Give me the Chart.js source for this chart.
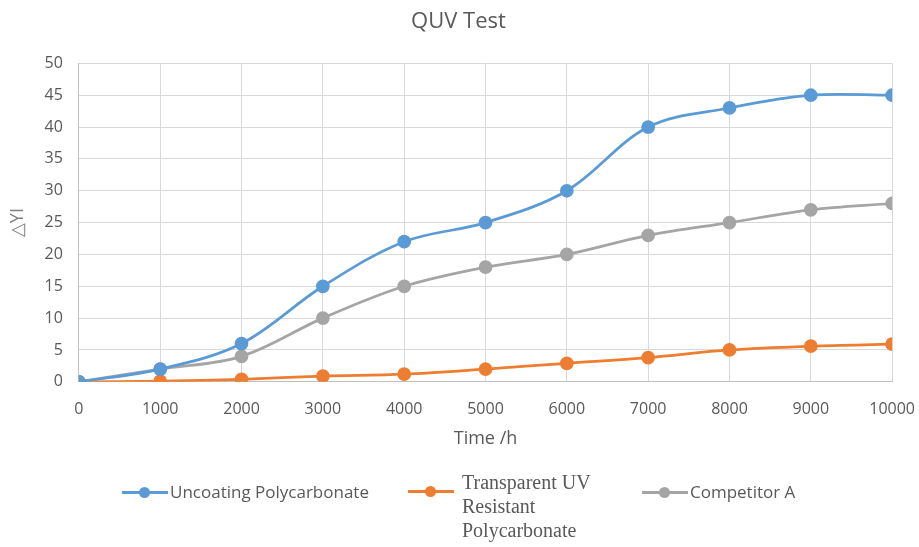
<!DOCTYPE html>
<html>
<head>
<meta charset="utf-8">
<script src="https://cdn.jsdelivr.net/npm/chart.js@4.4.1/dist/chart.umd.min.js"></script>
<style>
  html, body { margin: 0; padding: 0; background: #ffffff; }
  #wrap { position: relative; width: 919px; height: 547px; }
  #c { position: absolute; left: 0; top: 0; }
  .leg { position: absolute; display: flex; align-items: flex-start; color: #595959; }
  .mk { position: relative; width: 46px; height: 3px; background: currentColor; margin-right: 2px; }
  .mk::after { content: ""; position: absolute; left: 17px; top: -4px; width: 11px; height: 11px; border-radius: 50%; background: inherit; }
  .txt { font-family: "Open Sans", sans-serif; font-size: 17px; color: #595959; }
  .serif { font-family: "Liberation Serif", "DejaVu Serif", serif; font-size: 20px; line-height: 24px; color: #595959; }
</style>
</head>
<body>
<div id="wrap">
  <canvas id="c" width="919" height="547"></canvas>
  <div class="leg" id="leg0" style="left:122px; top:480px;"><div class="mk" style="color:#5b9bd5; margin-top:11px;"></div><div class="txt">Uncoating Polycarbonate</div></div>
  <div class="leg" id="leg1" style="left:408px; top:470px;"><div class="mk" style="color:#ed7d31; margin-top:20px; margin-right:8px;"></div><div class="serif">Transparent UV<br>Resistant<br>Polycarbonate</div></div>
  <div class="leg" id="leg2" style="left:642px; top:480px;"><div class="mk" style="color:#a5a5a5; margin-top:11px;"></div><div class="txt">Competitor A</div></div>
</div>
<script>
const hours = [0, 1000, 2000, 3000, 4000, 5000, 6000, 7000, 8000, 9000, 10000];
const uncoating = [0, 2, 6, 15, 22, 25, 30, 40, 43, 45, 45];
const transparentUV = [0, 0.1, 0.4, 0.9, 1.2, 2, 2.9, 3.8, 5, 5.6, 5.9];
const competitorA = [0, 2, 4, 10, 15, 18, 20, 23, 25, 27, 28];
const seriesNames = ["Uncoating Polycarbonate", "Transparent UV Resistant Polycarbonate", "Competitor A"];
const seriesColors = ["#5b9bd5", "#ed7d31", "#a5a5a5"];

function pts(vals) { return hours.map((h, i) => ({ x: h, y: vals[i] })); }
function ds(name, vals, color) {
  return {
    label: name, data: pts(vals),
    borderColor: color, backgroundColor: color,
    pointBackgroundColor: color, pointBorderColor: color,
    borderWidth: 2.75, pointRadius: 5.5, pointHoverRadius: 5.5,
    tension: 0.35, fill: false
  };
}

new Chart(document.getElementById('c'), {
  type: 'line',
  data: {
    datasets: [
      ds(seriesNames[0], uncoating, seriesColors[0]),
      ds(seriesNames[1], transparentUV, seriesColors[1]),
      ds(seriesNames[2], competitorA, seriesColors[2])
    ]
  },
  options: {
    responsive: false,
    animation: false,
    devicePixelRatio: 1,
    layout: { padding: { left: 3, right: 5, top: 9, bottom: 100 } },
    plugins: {
      legend: { display: false },
      tooltip: { enabled: false },
      title: {
        display: true, text: 'QUV Test', color: '#595959',
        font: { family: 'Open Sans', size: 22, weight: 'normal' },
        padding: { top: 0, bottom: 28 }
      }
    },
    scales: {
      x: {
        type: 'linear', min: 0, max: 10000,
        ticks: { stepSize: 1000, color: '#595959', font: { family: 'Open Sans', size: 16 }, padding: 4,
                 callback: v => String(v) },
        grid: { color: '#d9d9d9', lineWidth: 1, drawTicks: true, tickLength: 14, tickColor: 'rgba(0,0,0,0)' },
        border: { color: '#bfbfbf' },
        title: { display: true, text: 'Time /h', color: '#595959', font: { family: 'Open Sans', size: 18, lineHeight: 0.5 }, padding: { top: 11, bottom: 4 } }
      },
      y: {
        min: 0, max: 50,
        ticks: { stepSize: 5, color: '#595959', font: { family: 'Open Sans', size: 16 }, padding: 16 },
        grid: { color: '#d9d9d9', lineWidth: 1, drawTicks: false },
        border: { color: '#bfbfbf' },
        title: { display: true, text: '△YI', color: '#7f7f7f', font: { family: 'Open Sans', size: 18 }, padding: { top: 4, bottom: 0 } }
      }
    }
  }
});
</script>
</body>
</html>
